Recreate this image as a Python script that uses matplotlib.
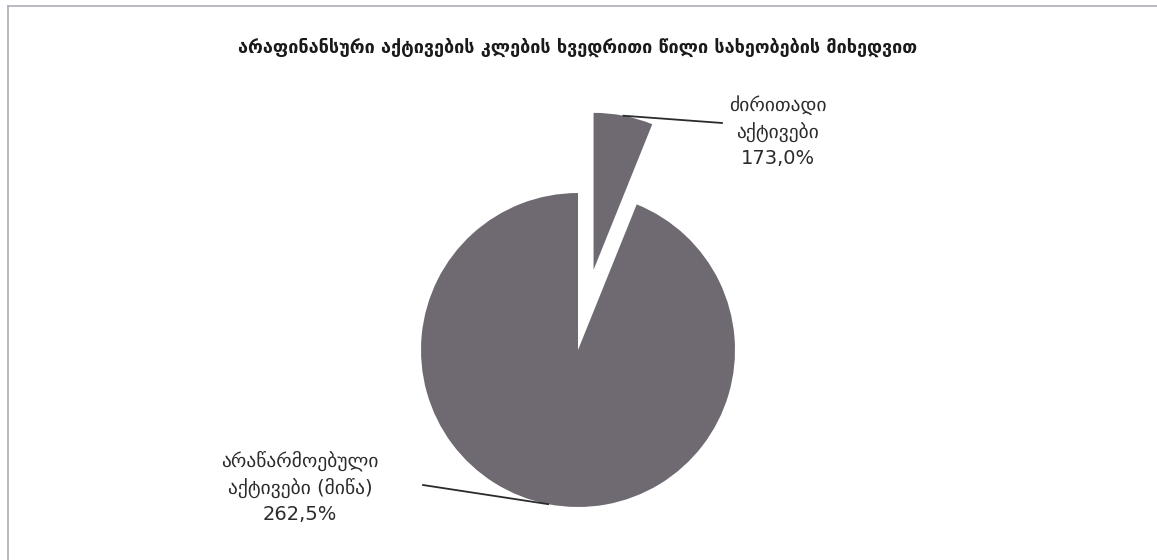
import numpy as np
import matplotlib.pyplot as plt
from matplotlib.lines import Line2D

shares = [6.1, 93.9]
names = ['ძირითადი\nაქტივები', 'არაწარმოებული\nაქტივები (მიწა)']
values = ['173,0%', '262,5%']
title = 'არაფინანსური აქტივების კლების ხვედრითი წილი სახეობების მიხედვით'

W, H = 1157, 560
cx, cy, r = 578, 350, 157   # pie centre / radius in pixels

fig = plt.figure(figsize=(W / 100, H / 100), dpi=100)
ax = fig.add_axes([0, 0, 1, 1])

wedges, _ = ax.pie(shares, startangle=90, counterclock=False,
                   explode=[0.52, 0], colors=['#6f6a72', '#6f6a72'],
                   wedgeprops=dict(linewidth=0))
ax.set_xlim(-cx / r, (W - cx) / r)
ax.set_ylim(-(H - cy) / r, cy / r)
ax.set_aspect('auto')
ax.axis('off')

# label text centre and leader end, in data units
text_pos = [(1.274, 1.389), (-1.771, -0.873)]
line_end = [(0.917, 1.446), (-0.987, -0.86)]
for w, nm, v, tp, le in zip(wedges, names, values, text_pos, line_end):
    mid = np.deg2rad((w.theta1 + w.theta2) / 2)
    x0, y0 = w.center
    ax0 = x0 + np.cos(mid) * w.r
    ay0 = y0 + np.sin(mid) * w.r
    ax.plot([ax0, le[0]], [ay0, le[1]], color='#2b2b2b', lw=1.3)
    ax.text(tp[0], tp[1], nm + '\n' + v, ha='center', va='center',
            fontsize=14, color='#2b2b2b', linespacing=1.45,
            family=['DejaVu Sans'])

fig.text(cx / W, 1 - 47 / H, title, ha='center', va='center',
         fontsize=13, fontweight='bold', color='#1a1a1a')

# chart frame (only top and left edges show)
fig.add_artist(Line2D([8 / W, 8 / W], [0, 1 - 6 / H], transform=fig.transFigure,
                      color='#b3acb9', lw=1.2))
fig.add_artist(Line2D([8 / W, 1], [1 - 6 / H, 1 - 6 / H], transform=fig.transFigure,
                      color='#b3acb9', lw=1.2))

fig.savefig('out.png', dpi=100, facecolor='white')
